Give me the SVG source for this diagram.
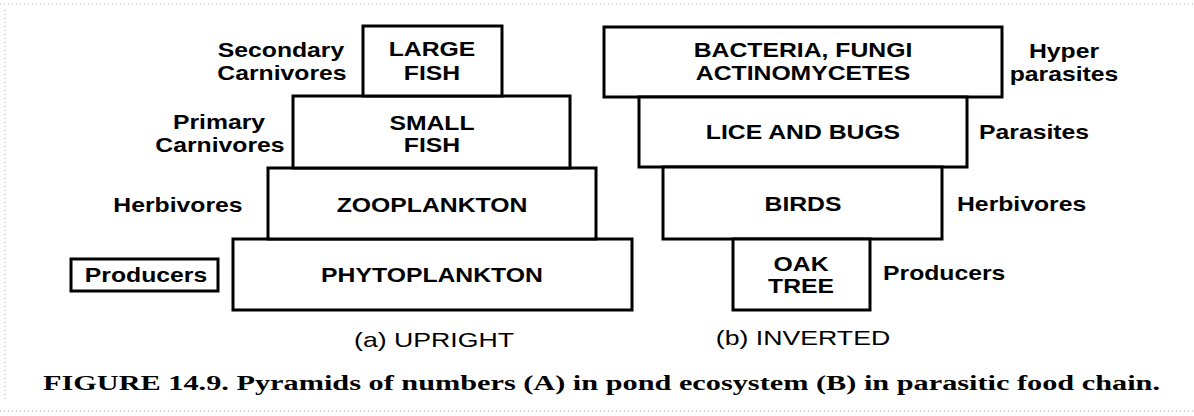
<svg xmlns="http://www.w3.org/2000/svg" width="1194" height="416" viewBox="0 0 1194 416">
<style>
.box{fill:#fff;stroke:#000;stroke-width:3}
.t{font-family:"Liberation Sans",Arial,sans-serif;font-weight:bold;font-size:19.5px;fill:#000}
.m{text-anchor:middle}
.c{font-family:"Liberation Sans",Arial,sans-serif;font-size:21px;fill:#000;text-anchor:middle}
.cap{font-family:"Liberation Serif","Times New Roman",serif;font-weight:bold;font-size:20px;fill:#000}
.scan{fill:none;stroke:#aaa;stroke-width:1;stroke-dasharray:1 3}
</style>
<rect width="1194" height="416" fill="#fff"/>
<g id="scan-edges">
<line class="scan" x1="0" y1="4" x2="1194" y2="4"/>
<line class="scan" x1="0" y1="411" x2="1194" y2="411"/>
<line class="scan" x1="5" y1="10" x2="5" y2="400"/>
</g>
<g id="connectors"></g>
<!-- Upright pyramid -->
<g id="phytoplankton">
<rect class="box" x="233" y="239" width="399" height="71"/>
<text class="t m" transform="translate(432,282) scale(1.27,1)">PHYTOPLANKTON</text>
</g>
<g id="zooplankton">
<rect class="box" x="268" y="168" width="328" height="71"/>
<text class="t m" transform="translate(432,212) scale(1.27,1)">ZOOPLANKTON</text>
</g>
<g id="small-fish">
<rect class="box" x="293" y="96" width="277" height="72"/>
<text class="t m" transform="translate(432,130) scale(1.27,1)">SMALL</text>
<text class="t m" transform="translate(432,152) scale(1.27,1)">FISH</text>
</g>
<g id="large-fish">
<rect class="box" x="363" y="26" width="139" height="70"/>
<text class="t m" transform="translate(432,56) scale(1.27,1)">LARGE</text>
<text class="t m" transform="translate(432,80) scale(1.27,1)">FISH</text>
</g>
<g id="label-secondary">
<text class="t m" transform="translate(281,57) scale(1.27,1)">Secondary</text>
<text class="t m" transform="translate(282,80) scale(1.27,1)">Carnivores</text>
</g>
<g id="label-primary">
<text class="t m" transform="translate(219,129) scale(1.27,1)">Primary</text>
<text class="t m" transform="translate(220,152) scale(1.27,1)">Carnivores</text>
</g>
<g id="label-herbivores-a">
<text class="t m" transform="translate(178,212) scale(1.27,1)">Herbivores</text>
</g>
<g id="label-producers-a">
<rect class="box" x="71" y="259" width="147" height="32"/>
<text class="t m" transform="translate(146,282) scale(1.27,1)">Producers</text>
</g>
<g id="title-a">
<text class="c" transform="translate(434,347) scale(1.27,1)">(a) UPRIGHT</text>
</g>
<!-- Inverted pyramid -->
<g id="bacteria">
<rect class="box" x="604" y="27" width="398" height="70"/>
<text class="t m" transform="translate(803,57) scale(1.27,1)">BACTERIA, FUNGI</text>
<text class="t m" transform="translate(803,80) scale(1.27,1)">ACTINOMYCETES</text>
</g>
<g id="lice-bugs">
<rect class="box" x="639" y="97" width="328" height="70"/>
<text class="t m" transform="translate(803,139) scale(1.27,1)">LICE AND BUGS</text>
</g>
<g id="birds">
<rect class="box" x="663" y="167" width="279" height="72"/>
<text class="t m" transform="translate(803,211) scale(1.27,1)">BIRDS</text>
</g>
<g id="oak-tree">
<rect class="box" x="733" y="239" width="137" height="71"/>
<text class="t m" transform="translate(801,271) scale(1.27,1)">OAK</text>
<text class="t m" transform="translate(801,293) scale(1.27,1)">TREE</text>
</g>
<g id="label-hyper">
<text class="t m" transform="translate(1064,58) scale(1.27,1)">Hyper</text>
<text class="t m" transform="translate(1064,81) scale(1.27,1)">parasites</text>
</g>
<g id="label-parasites">
<text class="t" transform="translate(979,139) scale(1.27,1)">Parasites</text>
</g>
<g id="label-herbivores-b">
<text class="t" transform="translate(957,211) scale(1.27,1)">Herbivores</text>
</g>
<g id="label-producers-b">
<text class="t" transform="translate(883,280) scale(1.27,1)">Producers</text>
</g>
<g id="title-b">
<text class="c" transform="translate(803,345) scale(1.27,1)">(b) INVERTED</text>
</g>
<g id="caption">
<text class="cap" x="43" y="390" textLength="1117" lengthAdjust="spacingAndGlyphs">FIGURE 14.9. Pyramids of numbers (A) in pond ecosystem (B) in parasitic food chain.</text>
</g>
</svg>
